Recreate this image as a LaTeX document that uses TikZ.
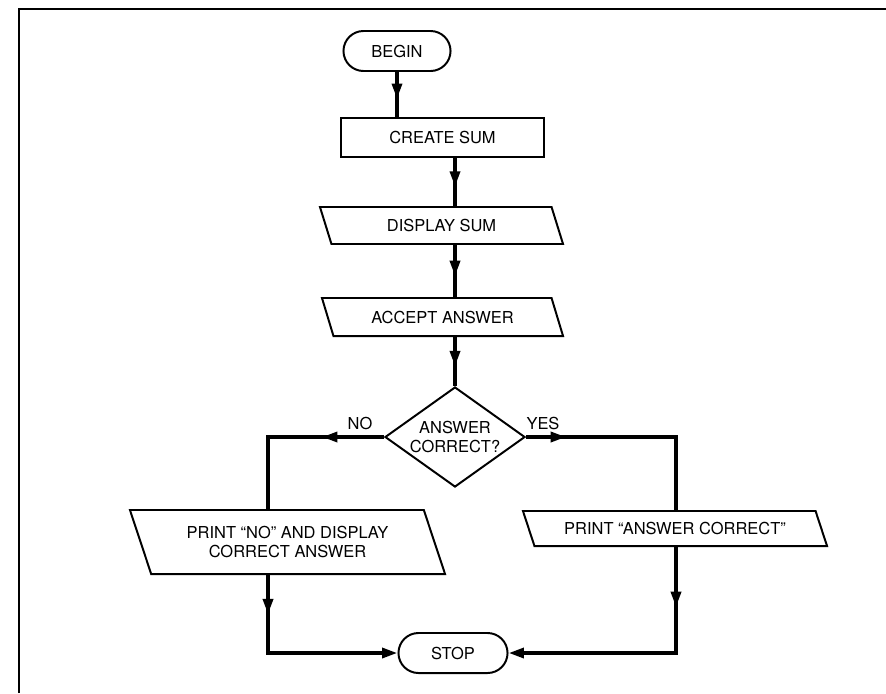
\documentclass[tikz,border=0pt]{standalone}
\usepackage{fontspec}
\setsansfont{TeX Gyre Heros}
\tikzset{every picture/.style={/utils/exec={\sffamily\fontsize{11.7}{14.2}\selectfont}}}
\usetikzlibrary{positioning}
\usetikzlibrary{shapes.geometric}
\usetikzlibrary{shapes.misc}
\usetikzlibrary{arrows.meta}
\usetikzlibrary{decorations.markings}
\tikzset{
  terminal/.style={draw, line width=1.4pt, rounded rectangle, minimum width=2.95cm, minimum height=1cm},
  process/.style={draw, line width=1.4pt, rectangle, minimum width=5.075cm, minimum height=0.975cm},
  io/.style={draw, line width=1.4pt, trapezium, trapezium left angle=116, trapezium right angle=64, trapezium stretches body, align=center},
  decision/.style={draw, line width=1.4pt, diamond, aspect=1.4, inner sep=0pt, align=center, minimum width=3.5cm, minimum height=2.5cm},
  flow/.style={line width=2.6pt},
  midarrow/.style={postaction={decorate, decoration={markings, mark=at position #1 with {\arrow{Triangle[length=11pt,width=7pt]}}}}},
  endarrow/.style={-{Triangle[length=11pt,width=7pt]}}
}

\begin{document}
\begin{tikzpicture}[x=0.025cm, y=-0.025cm]
  \useasboundingbox (0,0) rectangle (886,693);
  \draw [line width=1.6pt] (19,693) -- (19,9) -- (886,9);

  \node [terminal] (begin) at (397,51) {BEGIN};
  \node [process] (sum) at (442.5,137.5) {CREATE SUM};
  \node [io, minimum width=6.075cm, minimum height=0.925cm] (display) at (441.5,225.5) {DISPLAY SUM};
  \node [io, minimum width=6.025cm, minimum height=0.95cm] (accept) at (442.5,317) {ACCEPT ANSWER};
  \node [decision] (ans) at (455,437) {ANSWER\\CORRECT?};
  \node [io, minimum width=7.875cm, minimum height=1.6cm] (no) at (287.5,542) {PRINT “NO” AND DISPLAY\\CORRECT ANSWER};
  \node [io, minimum width=7.6cm, minimum height=0.875cm] (yes) at (675,528.5) {PRINT “ANSWER CORRECT”};
  \node [terminal, minimum width=3cm] (stop) at (453,653) {STOP};

  \node at (360,423) (nolabel) {NO};
  \node at (543,423) (yeslabel) {YES};

  \coordinate (nox) at (268,437);
  \coordinate (yesx) at (676,437);

  \draw [flow, midarrow=0.6] (begin.south) -- (begin.south |- sum.north);
  \foreach \a/\b in {sum/display, display/accept} {
    \draw [flow, midarrow=0.6] (ans.north |- \a.south) -- (ans.north |- \b.north);
  }
  \draw [flow, midarrow=0.6] (ans.north |- accept.south) -- (ans.north);

  \draw [flow, midarrow=0.33] (ans.west) -- (nox) -- (nox |- no.north);
  \draw [flow, midarrow=0.18] (ans.east) -- (yesx) -- (yesx |- yes.north);
  \draw [flow, midarrow=0.19, endarrow] (nox |- no.south) -- (nox |- stop) -- (stop.west);
  \draw [flow, midarrow=0.22, endarrow] (yesx |- yes.south) -- (yesx |- stop) -- (stop.east);
\end{tikzpicture}
\end{document}
